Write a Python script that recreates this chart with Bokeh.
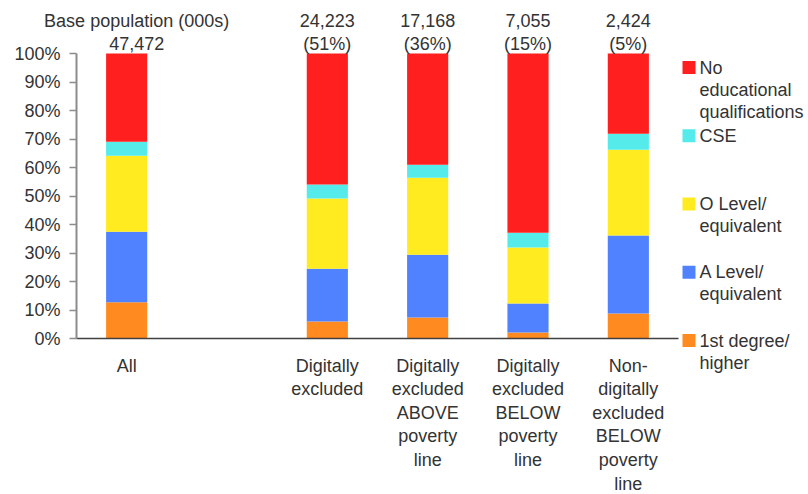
from bokeh.plotting import figure
from bokeh.models import ColumnDataSource, Range1d, FixedTicker, PrintfTickFormatter
from bokeh.embed import file_html
from bokeh.resources import INLINE
from bokeh.core.properties import value

# ---- data ----
categories = ["All", "Digitally\nexcluded",
              "Digitally\nexcluded\nABOVE\npoverty\nline",
              "Digitally\nexcluded\nBELOW\npoverty\nline",
              "Non-\ndigitally\nexcluded\nBELOW\npoverty\nline"]
slots = [0, 2, 3, 4, 5]          # category slot (slot 1 left empty)
first_degree = [12.7, 6.0, 7.4, 2.1, 8.8]
a_level = [24.8, 18.5, 22.0, 10.2, 27.3]
o_level = [26.6, 24.6, 27.0, 19.6, 30.1]
cse = [4.9, 4.9, 4.6, 5.2, 5.6]
no_qual = [31.0, 46.0, 39.0, 62.9, 28.2]
base_pop = ["47,472", "24,223", "17,168", "7,055", "2,424"]
share = ["", "(51%)", "(36%)", "(15%)", "(5%)"]
header = "Base population (000s)"
series_names = ["first_degree", "a_level", "o_level", "cse", "no_qual"]
series_labels = ["1st degree/\nhigher", "A Level/\nequivalent", "O Level/\nequivalent",
                 "CSE", "No\neducational\nqualifications"]
colors = ["#FF8A1F", "#5082FF", "#FFEB1F", "#55EBEB", "#FF1F1F"]
y_ticks = [0, 10, 20, 30, 40, 50, 60, 70, 80, 90, 100]

FONT = "Liberation Sans"
TXT = "#333333"
FS = "18px"

# ---- layout geometry (pixels) ----
W, H = 808, 494
LEFT, AXIS_Y, TOP100, AXIS_RIGHT = 76, 338, 53, 678
n_slots = 6
px_per_x = (AXIS_RIGHT - LEFT) / n_slots
px_per_y = (AXIS_Y - TOP100) / 100.0
x_lo = -0.5


def px_x(px):
    return x_lo + (px - LEFT) / px_per_x


def px_y(py):
    return (AXIS_Y - py) / px_per_y


source = ColumnDataSource(dict(x=slots, first_degree=first_degree, a_level=a_level,
                               o_level=o_level, cse=cse, no_qual=no_qual))

p = figure(x_range=Range1d(px_x(0), px_x(W)), y_range=Range1d(px_y(H), px_y(0)),
           width=W, height=H, output_backend="svg", toolbar_location=None,
           min_border=0)
p.vbar_stack(series_names, x="x", width=0.41, color=colors, line_color=None, source=source)

p.xgrid.grid_line_color = None
p.ygrid.grid_line_color = None
p.outline_line_color = None

p.yaxis.fixed_location = x_lo
p.yaxis.ticker = FixedTicker(ticks=y_ticks)
p.yaxis.bounds = (0, 100)
p.yaxis.formatter = PrintfTickFormatter(format="%d%%")
p.yaxis.axis_line_color = "#8c8c8c"
p.yaxis.axis_line_width = 2
p.yaxis.major_tick_line_color = "#8c8c8c"
p.yaxis.major_tick_line_width = 1.5
p.yaxis.major_tick_out = 7
p.yaxis.major_tick_in = 0
p.yaxis.minor_tick_line_color = None
p.yaxis.major_label_standoff = 9

p.xaxis.fixed_location = 0
p.xaxis.ticker = FixedTicker(ticks=slots)
p.xaxis.bounds = (x_lo, x_lo + n_slots)
p.xaxis.major_label_overrides = {s: c for s, c in zip(slots, categories)}
p.xaxis.axis_line_color = "#404040"
p.xaxis.axis_line_width = 1.5
p.xaxis.major_tick_line_color = None
p.xaxis.minor_tick_line_color = None
p.xaxis.major_label_standoff = 11
p.xaxis.major_label_text_line_height = 1.18

for ax in (p.xaxis, p.yaxis):
    ax.major_label_text_font = FONT
    ax.major_label_text_font_size = FS
    ax.major_label_text_color = TXT

# labels above bars
top_lines = [header] + base_pop[1:]
second_lines = [base_pop[0]] + share[1:]
x_off = [10] + [0] * (len(slots) - 1)
for ys_px, lines in ((20, top_lines), (43, second_lines)):
    p.text(x=slots, y=[px_y(ys_px)] * len(slots), text=lines, x_offset=x_off,
           text_align="center", text_baseline="middle",
           text_font=value(FONT), text_font_size=FS, text_color=TXT)

# legend (drawn in the right margin of the frame)
order = list(range(len(series_labels)))[::-1]
leg_py = [67 + k * 68.25 for k in range(len(order))]
p.scatter(x=[px_x(688.5)] * len(order), y=[px_y(v) for v in leg_py], marker="square", size=13,
          color=[colors[i] for i in order], line_color=None)
p.text(x=[px_x(699)] * len(order), y=[px_y(v) for v in leg_py], y_offset=-10,
       text=[series_labels[i] for i in order],
       text_font=value(FONT), text_font_size=FS, text_color=TXT,
       text_baseline="top", text_line_height=1.1)

open("out.html", "w").write(file_html(p, INLINE))
